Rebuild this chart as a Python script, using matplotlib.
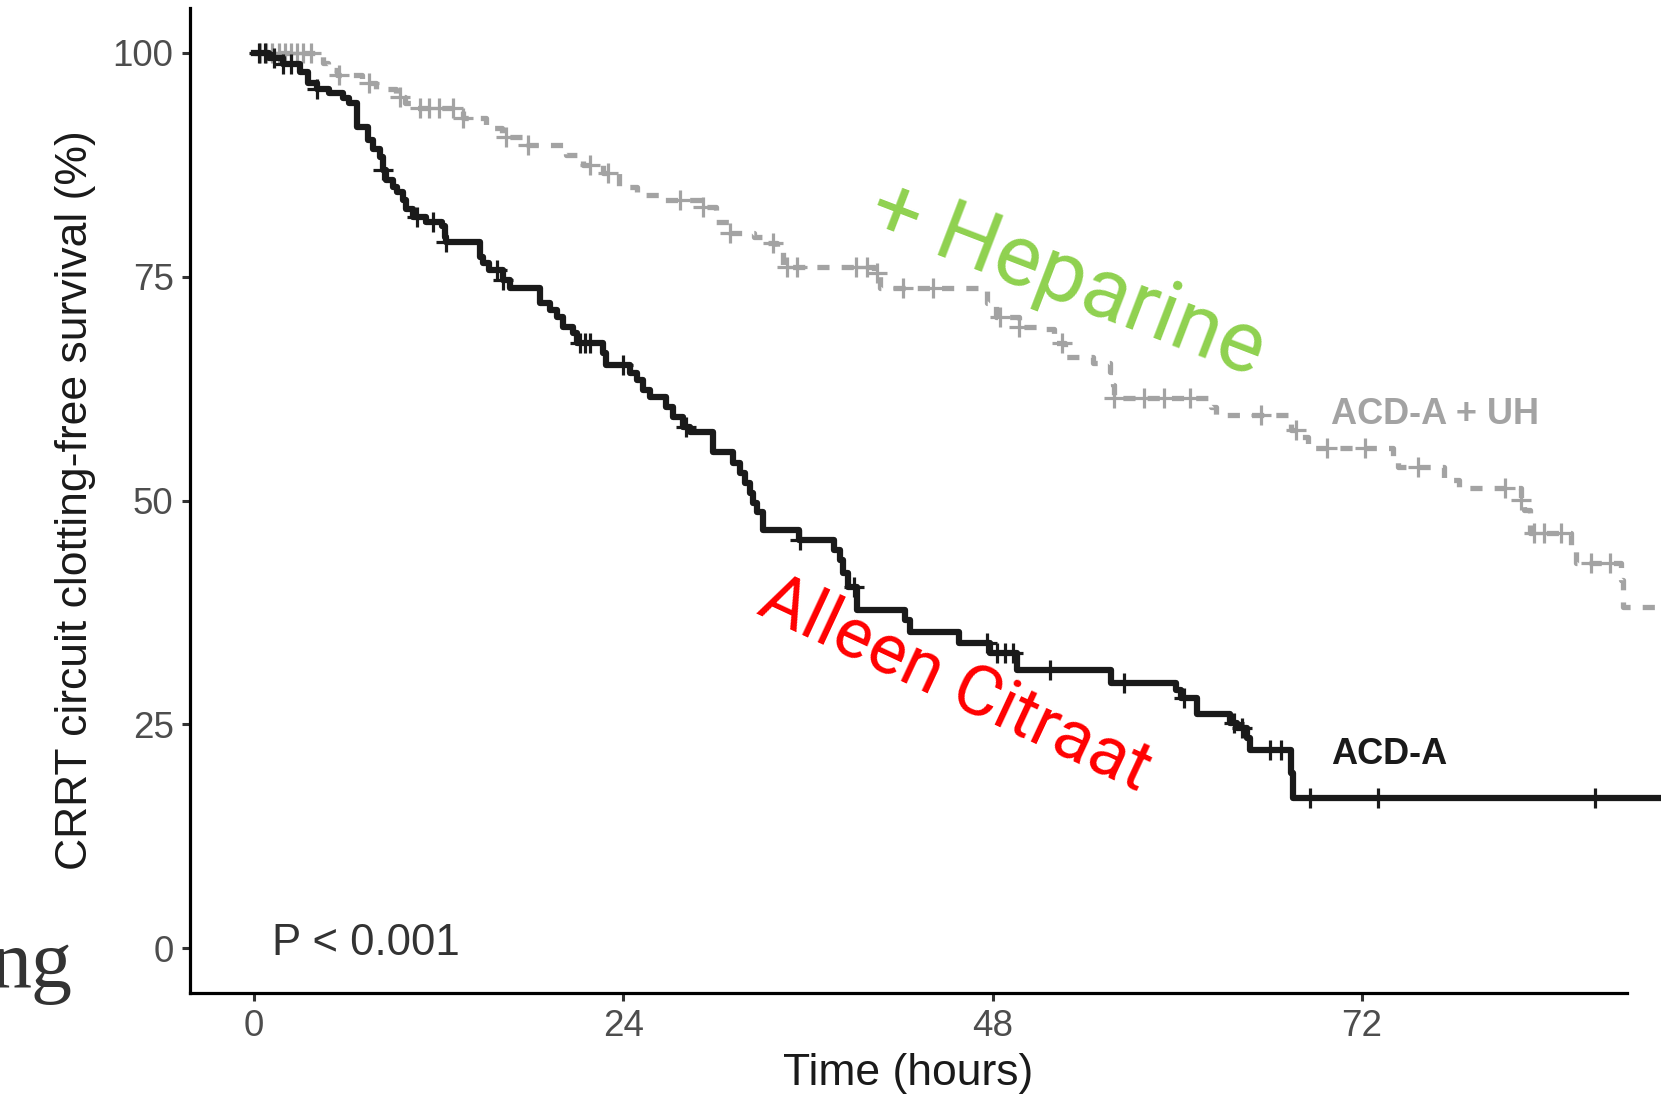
import numpy as np
import matplotlib
matplotlib.use("Agg")
import matplotlib.pyplot as plt

# ---------------- data ----------------
acd_times = [0, 1.0, 1.9, 3.0, 3.5, 4.1, 4.9, 5.8, 6.2, 6.7, 7.4, 7.7, 8.2, 8.4, 8.6, 9.0,
             9.3, 9.7, 9.9, 10.3, 11.2, 12.2, 12.4, 12.5, 14.7, 14.9, 15.3, 16.2, 16.6,
             18.6, 19.2, 19.7, 20.1, 20.7, 21.0, 22.7, 22.9, 24.4, 24.9, 25.3, 25.7, 26.8,
             27.2, 27.9, 28.3, 29.8, 31.1, 31.6, 31.9, 32.2, 32.4, 32.7, 33.1, 35.4, 37.7,
             38.1, 38.3, 38.6, 39.2, 42.3, 42.6, 45.8, 47.8, 49.6, 55.7, 59.9, 60.2, 61.3,
             63.4, 63.9, 64.5, 64.7, 67.4, 67.5, 91.5]
acd_surv = [100, 99.4, 98.7, 97.8, 96.6, 96.0, 95.5, 95.0, 94.4, 91.7, 90.3, 89.2, 88.4, 86.9,
            85.8, 85.0, 84.4, 83.6, 82.5, 81.7, 81.1, 80.6, 79.4, 78.9, 77.2, 76.5, 75.7, 74.6,
            73.7, 72.1, 71.3, 70.5, 69.4, 68.7, 67.6, 66.5, 65.1, 64.2, 63.5, 62.3, 61.6, 60.4,
            59.3, 58.2, 57.6, 55.4, 54.2, 53.1, 52.0, 50.8, 49.7, 48.7, 46.7, 45.6, 44.5, 43.4,
            41.9, 40.3, 37.8, 36.6, 35.3, 34.1, 33.0, 31.1, 29.6, 28.8, 28.0, 26.2, 25.1, 24.6,
            23.5, 22.1, 19.6, 16.8, 16.8]
acd_censor = [0.3, 0.7, 1.3, 1.9, 2.4, 4.1, 8.4, 10.6, 11.6, 12.5, 15.8, 16.2, 21.2, 21.5,
              21.8, 24.0, 28.1, 35.5, 39.0, 47.6, 48.3, 48.8, 49.3, 51.7, 56.5, 60.4, 63.7,
              64.2, 66.0, 66.7, 68.6, 73.0, 87.1]

uh_times = [0, 4.5, 4.8, 5.4, 7.0, 7.9, 9.2, 9.8, 10.5, 13.6, 15.1, 16.1, 17.7, 20.3, 21.4,
            22.7, 23.7, 24.9, 26.4, 29.2, 30.0, 30.9, 32.5, 33.1, 34.0, 34.4, 40.3, 40.7,
            47.6, 48.2, 49.7, 51.2, 52.0, 52.7, 54.5, 55.6, 55.8, 55.9, 62.2, 62.5, 67.4,
            67.9, 68.5, 74.0, 74.3, 77.3, 78.3, 82.3, 82.5, 82.9, 85.6, 85.9, 88.85, 88.95,
            91.5]
uh_surv = [100, 98.9, 98.1, 97.5, 96.6, 95.9, 95.1, 94.4, 93.8, 92.7, 91.6, 90.6, 89.7, 88.6,
           87.5, 86.6, 85.0, 84.1, 83.6, 82.8, 81.1, 79.9, 79.4, 78.8, 78.0, 76.1, 75.4, 73.7,
           72.1, 70.5, 69.4, 69.1, 67.6, 66.0, 65.4, 64.4, 62.9, 61.5, 60.4, 59.6, 57.9, 57.1,
           55.9, 54.7, 53.7, 52.3, 51.4, 50.1, 48.9, 46.4, 44.8, 43.0, 41.1, 38.1, 38.1]
uh_censor = [0.4, 0.8, 1.2, 1.6, 2.0, 2.4, 2.8, 3.2, 3.7, 5.5, 7.5, 9.5, 10.8, 11.4, 12.0,
             12.9, 13.6, 16.4, 17.8, 21.8, 23.0, 27.7, 29.2, 30.9, 33.7, 34.6, 35.3, 39.1,
             39.8, 40.5, 42.2, 44.1, 48.5, 49.7, 52.5, 55.9, 57.8, 59.1, 60.8, 65.4, 67.7,
             69.7, 72.2, 75.6, 81.3, 82.3, 83.2, 83.8, 84.9, 86.9, 88.1]

x_ticks = [0, 24, 48, 72]
y_ticks = [0, 25, 50, 75, 100]
group_labels = ["ACD-A", "ACD-A + UH"]
pval_text = "P < 0.001"

# ---------------- figure ----------------
W, H = 1661, 1100
fig = plt.figure(figsize=(W / 100, H / 100), dpi=100)
plt.rcParams['font.family'] = ['Liberation Sans', 'DejaVu Sans']

left_px, right_px, top_px, bot_px = 190, 1661, 8, 993
ax = fig.add_axes([left_px / W, 1 - bot_px / H, (right_px - left_px) / W, (bot_px - top_px) / H])
ax.set_xlim(-4.16, 91.42)
ax.set_ylim(-5, 105)

black = '#1a1a1a'
gray = '#a3a3a3'


def level_at(times, surv, t):
    idx = np.searchsorted(np.asarray(times), np.asarray(t), side='right') - 1
    return np.asarray(surv)[idx]


# ACD-A + UH (gray dashed)
ax.step(uh_times, uh_surv, where='post', color=gray, lw=3.8,
        linestyle=(0, (2.3, 2.3)), clip_on=False, zorder=2)
ax.plot(uh_censor, level_at(uh_times, uh_surv, uh_censor), linestyle='none', marker='+',
        markersize=15, markeredgewidth=2.3, color=gray, clip_on=False, zorder=2)

# ACD-A (black solid)
ax.step(acd_times, acd_surv, where='post', color=black, lw=4.5, clip_on=False, zorder=3)
ax.plot(acd_censor, level_at(acd_times, acd_surv, acd_censor), linestyle='none', marker='+',
        markersize=15, markeredgewidth=2.3, color=black, clip_on=False, zorder=3)

# axes styling
for s in ['top', 'right']:
    ax.spines[s].set_visible(False)
for s in ['left', 'bottom']:
    ax.spines[s].set_linewidth(2.3)
    ax.spines[s].set_color('black')
ax.spines['bottom'].set_bounds(-4.16, 89.2)
ax.set_xticks(x_ticks)
ax.set_yticks(y_ticks)
ax.set_xticklabels([str(v) for v in x_ticks])
ax.set_yticklabels([str(v) for v in y_ticks])
ax.tick_params(axis='both', direction='out', length=5.8, width=2.2, color='#333333',
               labelsize=26.5, labelcolor='#4d4d4d', pad=6)

ax.set_xlabel('Time (hours)', fontsize=32, color='#1a1a1a', labelpad=0)
ax.xaxis.set_label_coords((908 - left_px) / (right_px - left_px), -(1073 - bot_px) / (bot_px - top_px))
ax.xaxis.label.set_va('center')
ax.set_ylabel('CRRT circuit clotting-free survival (%)', fontsize=32, color='#1a1a1a')
ax.yaxis.set_label_coords(-(left_px - 76) / (right_px - left_px), 0.5)
ax.yaxis.label.set_va('center')

# p-value
ax.text(1.2, 0.5, pval_text, fontsize=31.5, color='#333333', ha='left', va='center')

# group labels
ax.text(70.0, 21.6, group_labels[0], fontsize=26, fontweight='bold', color=black,
        ha='left', va='center')
ax.text(70.0, 59.6, group_labels[1], fontsize=26, fontweight='bold', color=gray,
        ha='left', va='center')

# handwritten annotations
fig.text(1068 / W, 1 - 280 / H, '+ Heparine', fontsize=62, color='#8fd14f',
         family=['Roboto', 'DejaVu Sans'], fontweight='normal', rotation=-21,
         rotation_mode='anchor', ha='center', va='center')
fig.text(955 / W, 1 - 684 / H, 'Alleen Citraat', fontsize=51, color='#ff0000',
         family=['Roboto', 'DejaVu Sans'], fontweight='normal', rotation=-25,
         rotation_mode='anchor', ha='center', va='center')

# stray text fragment at left edge (partially cut off, as in the source)
fig.text(72 / W, 1 - 987 / H, 'ng', fontsize=59, color='#333333',
         family=['Liberation Serif', 'DejaVu Serif'], ha='right', va='baseline')

fig.savefig('out.png', dpi=100)
